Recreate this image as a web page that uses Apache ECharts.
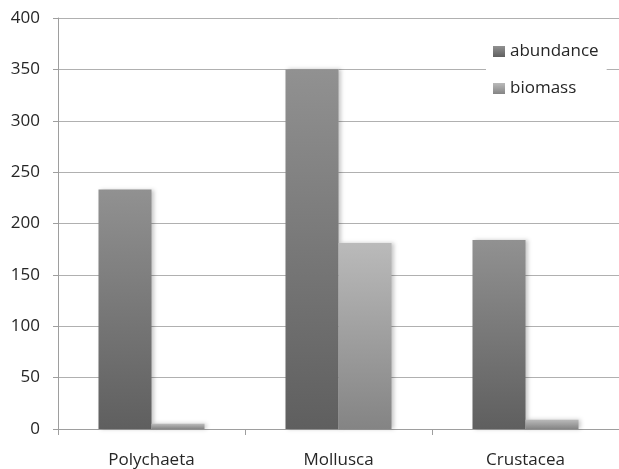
<!DOCTYPE html>
<html>
<head>
<meta charset="utf-8">
<script src="https://cdn.jsdelivr.net/npm/echarts@6/dist/echarts.min.js"></script>
<style>
  html, body { margin: 0; padding: 0; background: #ffffff; }
  #chart { width: 619px; height: 469px; }
</style>
</head>
<body>
<div id="chart"></div>
<script>
// Taxon groups along the x axis
var categories = ['Polychaeta', 'Mollusca', 'Crustacea'];
// Series values per group
var abundance = [233, 350, 184];
var biomass = [5, 181, 9];
// Value axis range
var yMin = 0;
var yMax = 400;
var yStep = 50;

var FONT = '"Open Sans", sans-serif';
var TEXT = '#262626';

function vGrad(top, bottom) {
  return new echarts.graphic.LinearGradient(0, 0, 0, 1, [
    { offset: 0, color: top },
    { offset: 1, color: bottom }
  ]);
}

var abundanceFill = vGrad('#919191', '#5f5f5f');
var biomassFill = vGrad('#bababa', '#848484');

var chart = echarts.init(document.getElementById('chart'), null, { renderer: 'canvas' });

chart.setOption({
  animation: false,
  backgroundColor: '#ffffff',
  grid: { left: 58, top: 18, width: 564, height: 411, containLabel: false },
  legend: {
    orient: 'vertical',
    left: 486,
    top: 33,
    padding: [10, 8, 10, 7],
    itemGap: 20,
    itemWidth: 12,
    itemHeight: 11,
    backgroundColor: '#ffffff',
    icon: 'rect',
    textStyle: { fontFamily: FONT, fontSize: 17, color: TEXT },
    data: [
      { name: 'abundance', itemStyle: { color: abundanceFill } },
      { name: 'biomass', itemStyle: { color: biomassFill } }
    ]
  },
  xAxis: {
    type: 'category',
    data: categories,
    boundaryGap: true,
    axisLine: { show: true, lineStyle: { color: '#9e9e9e', width: 1 } },
    axisTick: { show: true, length: 6, lineStyle: { color: '#9e9e9e' } },
    axisLabel: { margin: 23, fontFamily: FONT, fontSize: 17, color: TEXT }
  },
  yAxis: {
    type: 'value',
    min: yMin,
    max: yMax,
    interval: yStep,
    axisLine: { show: true, lineStyle: { color: '#9e9e9e', width: 1 } },
    axisTick: { show: true, length: 5, lineStyle: { color: '#9e9e9e' } },
    splitLine: { show: true, lineStyle: { color: '#b0b0b0', width: 1 } },
    axisLabel: { margin: 18, fontFamily: FONT, fontSize: 17, color: TEXT }
  },
  series: [
    {
      name: 'abundance',
      type: 'bar',
      data: abundance,
      barWidth: 53,
      barGap: '0%',
      itemStyle: {
        color: abundanceFill,
        shadowBlur: 4,
        shadowColor: 'rgba(0,0,0,0.22)',
        shadowOffsetX: 2
      }
    },
    {
      name: 'biomass',
      type: 'bar',
      data: biomass,
      barWidth: 53,
      barGap: '0%',
      itemStyle: {
        color: biomassFill,
        shadowBlur: 4,
        shadowColor: 'rgba(0,0,0,0.22)',
        shadowOffsetX: 2
      }
    }
  ]
});
</script>
</body>
</html>
